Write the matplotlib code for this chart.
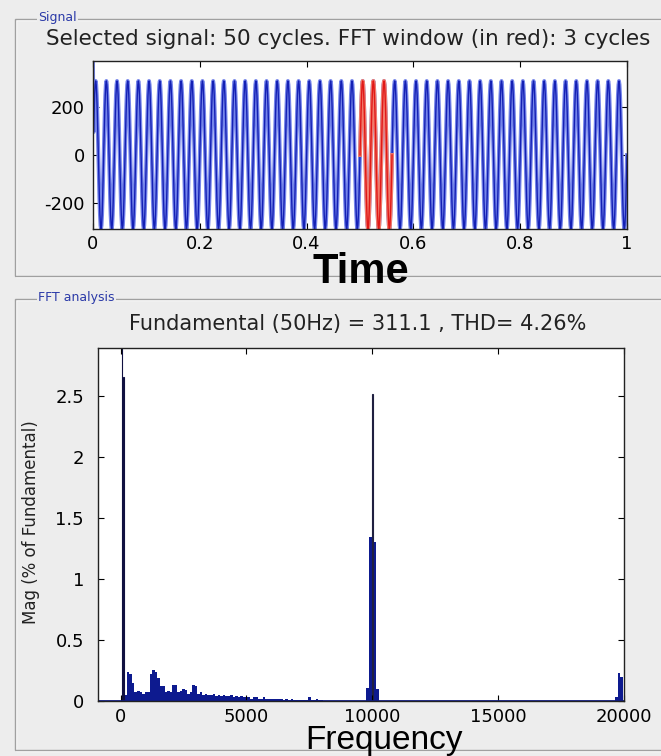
import matplotlib
matplotlib.use('Agg')
import matplotlib.pyplot as plt
from matplotlib.patches import Rectangle
import numpy as np

plt.rcParams['axes.unicode_minus'] = False

# one cycle of the selected signal (20 samples), repeated for 50 cycles
cycle_samples = [0, 96.1, 182.9, 251.7, 295.9, 311.1, 295.9, 251.7, 182.9, 96.1,
                 0, -96.1, -182.9, -251.7, -295.9, -311.1, -295.9, -251.7, -182.9, -96.1]
n_cycles = 50
start_value = 395.0
fft_window = [0.5, 0.56]

# spectrum (% of fundamental)
main_freqs = [50, 100]
main_mags = [100.0, 2.65]

noise_start = 200
noise_step = 100
noise_mags = [0.05, 0.24, 0.22, 0.15,
              0.07, 0.08, 0.07, 0.06, 0.07, 0.07,
              0.22, 0.25, 0.24, 0.19, 0.12, 0.12,
              0.07, 0.08, 0.07, 0.13, 0.13, 0.07, 0.08,
              0.10, 0.09, 0.06, 0.07, 0.13, 0.12,
              0.06, 0.07, 0.05,
              0.06, 0.05, 0.05, 0.06, 0.04, 0.05, 0.04,
              0.05, 0.04, 0.04, 0.05, 0.03, 0.04, 0.03, 0.04, 0.03, 0.03,
              0.03, 0.02, 0.03, 0.03, 0.02, 0.02, 0.03, 0.02, 0.02, 0.02,
              0.02, 0.015, 0.02, 0.015, 0.01, 0.015, 0.01, 0.015, 0.01, 0.01,
              0.01, 0.01, 0.008, 0.01, 0.03, 0.01, 0.008, 0.02, 0.01, 0.005]

carrier_freqs = [9800, 9900, 10000, 10100, 10200]
carrier_mags = [0.11, 1.34, 1.34, 1.30, 0.10]
carrier_peak = [10000, 2.51]

high_freqs = [19700, 19800, 19900]
high_mags = [0.03, 0.23, 0.20]

W, H = 661, 756
bg = '#ededed'
bar_col = '#0d1a8f'

def fx(x):
    return x / W

def fy(y):
    return 1 - y / H

fig = plt.figure(figsize=(W / 100, H / 100), dpi=100, facecolor=bg)

# group boxes
for (x0, y0, x1, y1) in [(15, 19, 680, 276), (15, 299, 680, 750)]:
    fig.patches.append(Rectangle((fx(x0 + 1), fy(y1 + 1)), fx(x1 - x0), (y1 - y0) / H,
                                 transform=fig.transFigure, fill=False,
                                 edgecolor='white', linewidth=1))
    fig.patches.append(Rectangle((fx(x0), fy(y1)), fx(x1 - x0), (y1 - y0) / H,
                                 transform=fig.transFigure, fill=False,
                                 edgecolor='#a0a0a0', linewidth=1))
fig.text(fx(38), fy(18), 'Signal', color='#2b3aa8', fontsize=9, va='center',
         bbox=dict(facecolor=bg, edgecolor='none', pad=1))
fig.text(fx(38), fy(298), 'FFT analysis', color='#2b3aa8', fontsize=9, va='center',
         bbox=dict(facecolor=bg, edgecolor='none', pad=1))

# signal
signal = np.concatenate([[start_value], np.tile(cycle_samples, n_cycles)[1:], [cycle_samples[0]]])
t = np.linspace(0, 1, len(signal))

ax1 = fig.add_axes([fx(93), fy(229), fx(627 - 93), (229 - 61) / H])
ax1.plot(t, signal, color='#7585ea', linewidth=2.8)
ax1.plot(t, signal, color='#1420b4', linewidth=1.0)
mask = (t >= fft_window[0]) & (t <= fft_window[1])
ax1.plot(t[mask], signal[mask], color='#f27a6a', linewidth=2.8)
ax1.plot(t[mask], signal[mask], color='#e01818', linewidth=1.0)
ax1.set_xlim(0, 1)
ax1.set_ylim(min(cycle_samples), start_value)
ax1.set_xticks([0, 0.2, 0.4, 0.6, 0.8, 1])
ax1.set_xticklabels(['0', '0.2', '0.4', '0.6', '0.8', '1'])
ax1.set_yticks([-200, 0, 200])
ax1.tick_params(direction='in', top=True, right=True, labelsize=13, length=4)
ax1.tick_params(axis='x', pad=4)
ax1.tick_params(axis='y', pad=6)
fig.text(fx(348), fy(39), 'Selected signal: 50 cycles. FFT window (in red): 3 cycles',
         fontsize=15.5, ha='center', va='center', color='#222222')
fig.text(fx(361), fy(283), 'Time', fontsize=30, fontweight='bold', ha='center',
         va='baseline', family='Liberation Sans')

# spectrum
ax2 = fig.add_axes([fx(98), fy(701), fx(624 - 98), (701 - 348) / H])
noise_freqs = noise_start + noise_step * np.arange(len(noise_mags))
ax2.bar(noise_freqs, noise_mags, width=noise_step, color=bar_col, linewidth=0)
ax2.bar(carrier_freqs, carrier_mags, width=100, color=bar_col, linewidth=0)
ax2.bar(high_freqs, high_mags, width=100, color=bar_col, linewidth=0)
ax2.bar(main_freqs, main_mags, width=[25, 50], color=bar_col, edgecolor='#101040',
        linewidth=0.8)
ax2.bar([carrier_peak[0]], [carrier_peak[1]], width=25, color=bar_col,
        edgecolor='#202040', linewidth=0.8)
ax2.axhline(0, color=bar_col, linewidth=2)
ax2.set_xlim(-900, 20000)
ax2.set_ylim(0, 2.89)
ax2.set_xticks([0, 5000, 10000, 15000, 20000])
ax2.set_yticks([0, 0.5, 1, 1.5, 2, 2.5])
ax2.set_yticklabels(['0', '0.5', '1', '1.5', '2', '2.5'])
ax2.tick_params(direction='in', top=True, right=True, labelsize=13, length=4)
ax2.tick_params(axis='x', pad=5)
ax2.tick_params(axis='y', pad=10)
fig.text(fx(358), fy(324), 'Fundamental (50Hz) = 311.1 , THD= 4.26%',
         fontsize=15, ha='center', va='center', color='#222222')
fig.text(fx(31), fy(522), 'Mag (% of Fundamental)', fontsize=12, rotation=90,
         ha='center', va='center', color='#222222')
fig.text(fx(384), fy(749), 'Frequency', fontsize=24, ha='center', va='baseline',
         family='Liberation Sans')

for ax in (ax1, ax2):
    for s in ax.spines.values():
        s.set_linewidth(1)
        s.set_color('#222222')

fig.savefig('out.png', dpi=100, facecolor=bg)
